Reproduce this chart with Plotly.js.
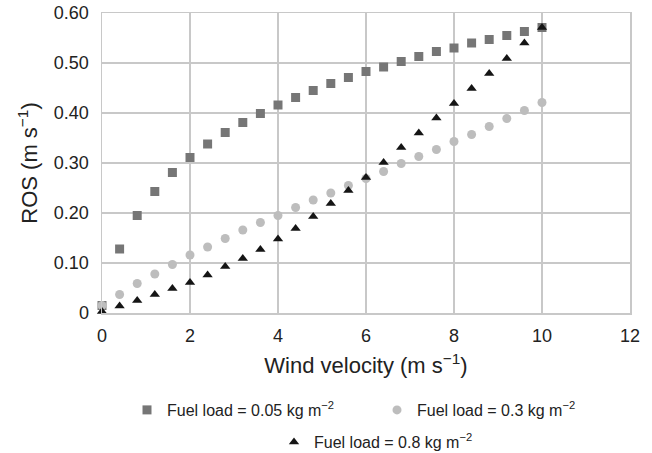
<!DOCTYPE html>
<html>
<head>
<meta charset="utf-8">
<script src="https://cdn.plot.ly/plotly-3.0.1.min.js"></script>
<style>html,body{margin:0;padding:0;background:#fff;}#chart{width:652px;height:453px;}</style>
</head>
<body>
<div id="chart"></div>
<script>
const windVelocity = [0, 0.4, 0.8, 1.2, 1.6, 2.0, 2.4, 2.8, 3.2, 3.6, 4.0, 4.4, 4.8, 5.2, 5.6, 6.0, 6.4, 6.8, 7.2, 7.6, 8.0, 8.4, 8.8, 9.2, 9.6, 10.0];
const rosLoad005 = [0.015, 0.128, 0.195, 0.243, 0.281, 0.311, 0.338, 0.361, 0.381, 0.399, 0.416, 0.431, 0.445, 0.459, 0.471, 0.483, 0.492, 0.503, 0.513, 0.523, 0.530, 0.540, 0.547, 0.555, 0.563, 0.571];
const rosLoad03 = [0.015, 0.037, 0.059, 0.078, 0.097, 0.116, 0.132, 0.149, 0.166, 0.181, 0.195, 0.211, 0.226, 0.240, 0.255, 0.269, 0.283, 0.299, 0.313, 0.327, 0.343, 0.357, 0.373, 0.389, 0.405, 0.421];
const rosLoad08 = [0.003, 0.014, 0.025, 0.037, 0.049, 0.061, 0.076, 0.093, 0.109, 0.127, 0.148, 0.169, 0.193, 0.219, 0.245, 0.271, 0.301, 0.331, 0.360, 0.390, 0.419, 0.449, 0.479, 0.509, 0.540, 0.571];
const seriesNames = ['Fuel load = 0.05 kg m<sup>−2</sup>', 'Fuel load = 0.3 kg m<sup>−2</sup>', 'Fuel load = 0.8 kg m<sup>−2</sup>'];
const xTickVals = [0, 2, 4, 6, 8, 10, 12];
const xTickLabels = ['0', '2', '4', '6', '8', '10', '12'];
const yTickVals = [0, 0.1, 0.2, 0.3, 0.4, 0.5, 0.6];
const yTickLabels = ['0', '0.10', '0.20', '0.30', '0.40', '0.50', '0.60'];

const FONT = 'Liberation Sans, Arial, Helvetica, sans-serif';
const traces = [
  {x: windVelocity, y: rosLoad005, name: seriesNames[0], type: 'scatter', mode: 'markers', cliponaxis: false,
   marker: {symbol: 'square', size: 9, color: '#767676'}, legend: 'legend'},
  {x: windVelocity, y: rosLoad03, name: seriesNames[1], type: 'scatter', mode: 'markers', cliponaxis: false,
   marker: {symbol: 'circle', size: 9, color: '#bdbdbd'}, legend: 'legend'},
  {x: windVelocity, y: rosLoad08, name: seriesNames[2], type: 'scatter', mode: 'markers', cliponaxis: false,
   marker: {symbol: 'triangle-up', size: 9, color: '#151515'}, legend: 'legend2'}
];
const layout = {
  width: 652, height: 453,
  margin: {l: 102, r: 22, t: 13, b: 140},
  paper_bgcolor: '#ffffff', plot_bgcolor: '#ffffff',
  font: {family: FONT, color: '#222222', size: 18},
  showlegend: true,
  xaxis: {
    range: [0, 12], tickvals: xTickVals, ticktext: xTickLabels,
    showgrid: true, gridcolor: '#c8c8c8', gridwidth: 1.5,
    showline: true, linecolor: '#c8c8c8', linewidth: 1.5, mirror: true,
    zeroline: false, ticks: '', ticklabelstandoff: 6,
    tickfont: {size: 18},
    title: {text: 'Wind velocity (m s<sup>−1</sup>)', font: {size: 22}, standoff: 12}
  },
  yaxis: {
    range: [0, 0.6], tickvals: yTickVals, ticktext: yTickLabels,
    showgrid: true, gridcolor: '#c8c8c8', gridwidth: 1.5,
    showline: true, linecolor: '#c8c8c8', linewidth: 1.5, mirror: true,
    zeroline: false, ticks: '', ticklabelstandoff: 8,
    tickfont: {size: 18},
    title: {text: 'ROS (m s<sup>−1</sup>)', font: {size: 22}, standoff: 10}
  },
  legend: {
    orientation: 'h', xref: 'container', yref: 'container',
    x: 127 / 652, xanchor: 'left', y: 1 - 410 / 453, yanchor: 'middle',
    entrywidth: 205, font: {size: 16, family: FONT, color: '#222222'},
    bgcolor: 'rgba(0,0,0,0)', borderwidth: 0
  },
  legend2: {
    orientation: 'h', xref: 'container', yref: 'container',
    x: 274 / 652, xanchor: 'left', y: 1 - 442 / 453, yanchor: 'middle',
    font: {size: 16, family: FONT, color: '#222222'},
    bgcolor: 'rgba(0,0,0,0)', borderwidth: 0
  }
};
Plotly.newPlot('chart', traces, layout, {displayModeBar: false, staticPlot: true});
</script>
</body>
</html>
